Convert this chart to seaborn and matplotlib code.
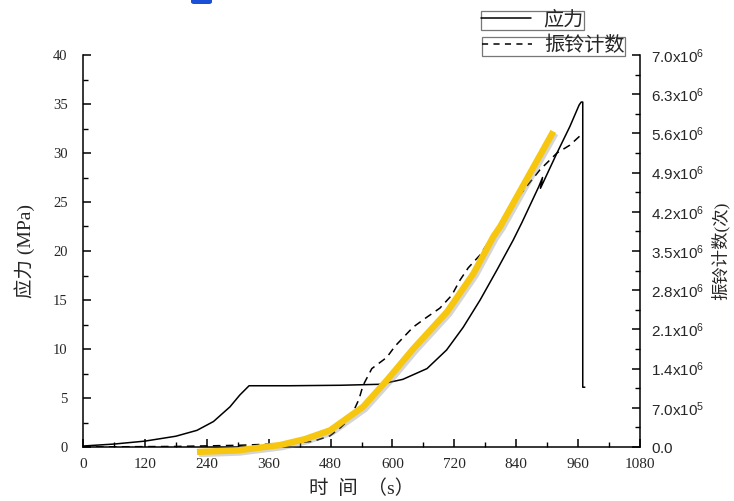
import matplotlib
matplotlib.use("Agg")
import math
import matplotlib.pyplot as plt
import matplotlib.patheffects as pe
from matplotlib.ticker import MultipleLocator, FuncFormatter
from matplotlib.lines import Line2D
from matplotlib.patches import FancyBboxPatch
import seaborn as sns
import pandas as pd

# ---------------- data ----------------
stress_t = [0, 60, 120, 180, 221, 253, 285, 304, 322, 400, 500, 576, 620, 667,
            705, 737, 770, 803, 834, 851, 884, 891, 887, 919, 944, 962, 966, 969, 969, 973]
stress_v = [0.1, 0.3, 0.6, 1.1, 1.7, 2.6, 4.1, 5.3, 6.25, 6.25, 6.3, 6.4, 6.9, 8.0,
            9.9, 12.2, 15.0, 18.1, 21.1, 22.9, 26.6, 27.5, 26.4, 30.0, 32.7, 34.9, 35.2, 35.2, 6.1, 6.1]

count_t = [0, 180, 300, 360, 420, 446, 479, 500, 511, 525, 535, 543, 560, 589, 605,
           640, 667, 692, 715, 731, 747, 770, 789, 809, 847, 886, 919, 944, 970]
count_v = [0, 0.01e6, 0.03e6, 0.05e6, 0.08e6, 0.1e6, 0.2e6, 0.35e6, 0.45e6, 0.65e6, 0.85e6,
           1.1e6, 1.4e6, 1.6e6, 1.8e6, 2.14e6, 2.32e6, 2.48e6, 2.71e6, 2.98e6, 3.2e6, 3.43e6,
           3.7e6, 3.96e6, 4.5e6, 4.95e6, 5.25e6, 5.39e6, 5.61e6]

highlight_t = [221, 300, 382, 430, 479, 543, 589, 640, 706, 757, 796, 809, 860, 912]
highlight_v = [-0.5, -0.35, 0.2, 0.8, 1.7, 4.1, 6.8, 10.0, 13.8, 17.7, 21.5, 22.5, 27.3, 32.2]

x_ticks = [0, 120, 240, 360, 480, 600, 720, 840, 960, 1080]
left_ticks = [0, 5, 10, 15, 20, 25, 30, 35, 40]
right_ticks = [0, 0.7e6, 1.4e6, 2.1e6, 2.8e6, 3.5e6, 4.2e6, 4.9e6, 5.6e6, 6.3e6, 7.0e6]

legend_labels = ["应力", "振铃计数"]
x_label = "时  间  （s）"
left_label = "应力 (MPa)"
right_label = "振铃计数(次)"

# ---------------- style ----------------
sns.set_style("ticks")
plt.rcParams["font.family"] = ["Liberation Serif", "Noto Sans CJK SC"]
plt.rcParams["xtick.direction"] = "in"
plt.rcParams["ytick.direction"] = "in"

fig = plt.figure(figsize=(7.34, 5.01), dpi=100)
ax = fig.add_axes([83 / 734, 1 - 447 / 501, (640 - 83) / 734, (447 - 55) / 501])
ax2 = ax.twinx()

df_s = pd.DataFrame({"t": stress_t, "v": stress_v})
df_c = pd.DataFrame({"t": count_t, "v": count_v})
df_h = pd.DataFrame({"t": highlight_t, "v": highlight_v})

sns.lineplot(data=df_s, x="t", y="v", ax=ax, sort=False, estimator=None,
             color="black", linewidth=1.1)
sns.lineplot(data=df_c, x="t", y="v", ax=ax2, sort=False, estimator=None,
             color="black", linewidth=1.1, linestyle=(0, (5, 3.5)))

# yellow highlight on top
hl = fig.add_axes(ax.get_position(), frameon=False)
sns.lineplot(data=df_h, x="t", y="v", ax=hl, sort=False, estimator=None,
             color="#F7C710", linewidth=4.6, solid_capstyle="butt")
hl.set_xlim(0, 1080)
hl.set_ylim(0, 40)
for ln in hl.get_lines():
    ln.set_clip_on(False)
    ln.set_path_effects([pe.SimpleLineShadow(offset=(1.5, -1.5), shadow_color="#888888", alpha=0.35),
                         pe.Normal()])
hl.axis("off")

ax.set_xlim(0, 1080)
ax.set_ylim(0, 40)
ax2.set_ylim(0, 7.0e6)

ax.set_xticks(x_ticks)
ax.set_xticklabels([str(v) for v in x_ticks])
ax.xaxis.set_minor_locator(MultipleLocator(60))
ax.set_yticks(left_ticks)
ax.set_yticklabels([str(v) for v in left_ticks])
ax.yaxis.set_minor_locator(MultipleLocator(2.5))
ax2.set_yticks(right_ticks)
ax2.yaxis.set_minor_locator(MultipleLocator(0.35e6))


def fmt(v, pos):
    if v == 0:
        return r"$\mathregular{0.0}$"
    e = int(math.floor(math.log10(v) + 1e-9))
    m = v / 10 ** e
    return r"$\mathregular{%.1fx10^{%d}}$" % (m, e)


ax2.yaxis.set_major_formatter(FuncFormatter(fmt))

for a in (ax, ax2):
    a.tick_params(which="major", length=6, width=1.1, color="black")
    a.tick_params(which="minor", length=3.5, width=1.0, color="black")
    for s in a.spines.values():
        s.set_linewidth(1.1)
        s.set_color("black")
    a.spines["top"].set_visible(False)

ax.spines["right"].set_visible(False)
ax2.spines["left"].set_visible(False)
ax2.spines["bottom"].set_visible(False)
ax.tick_params(axis="x", labelsize=11, pad=8)
ax.tick_params(axis="y", labelsize=10.5, pad=11)
ax2.tick_params(axis="y", labelsize=11, pad=8)
for lab in ax2.get_yticklabels():
    lab.set_fontfamily(["Liberation Sans"])

ax.set_xlabel(x_label, fontsize=14, labelpad=6)
ax.set_ylabel(left_label, fontsize=14, labelpad=13)
ax2.set_ylabel(right_label, fontsize=12.5, labelpad=5)

# legends (separate boxes)
h1 = Line2D([], [], color="black", linewidth=1.1)
h2 = Line2D([], [], color="black", linewidth=1.1, linestyle=(0, (4, 3.5)))
common = dict(fontsize=14.5, frameon=True, fancybox=False, framealpha=1,
              edgecolor="#777777", borderpad=0.0, handlelength=2.5,
              handletextpad=0.6, borderaxespad=0, loc="upper left")
leg1 = fig.legend([h1], [legend_labels[0]], bbox_to_anchor=(481 / 734, 1 - 11 / 501), **common)
leg2 = fig.legend([h2], [legend_labels[1]], bbox_to_anchor=(482 / 734, 1 - 37 / 501), **common)
for lg in (leg1, leg2):
    lg.get_frame().set_linewidth(0.9)

for a in (ax, ax2, hl):
    if a.get_legend() is not None:
        a.get_legend().remove()

# small blue mark at top (cropped artifact)
fig.patches.append(FancyBboxPatch((191 / 734, 1 - 4 / 501), 21 / 734, 8 / 501,
                                  boxstyle="round,pad=0,rounding_size=0.004",
                                  transform=fig.transFigure, facecolor="#1A4FD8",
                                  edgecolor="none"))

fig.savefig("out.png", dpi=100)
